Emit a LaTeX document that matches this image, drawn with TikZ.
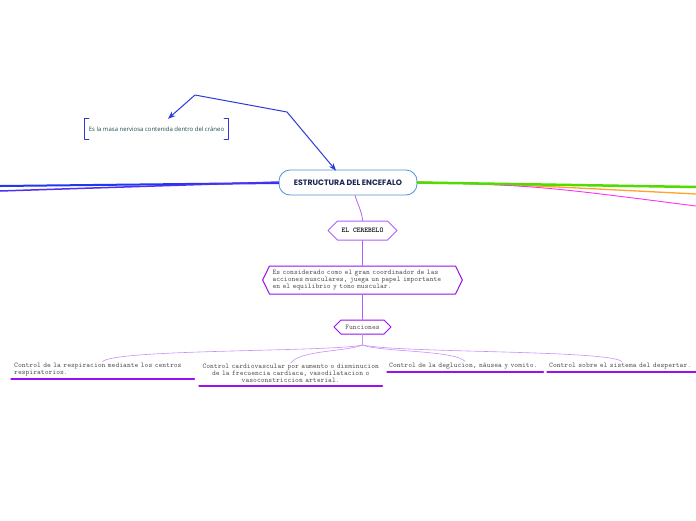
\documentclass[tikz,border=0pt]{standalone}
\usepackage{fontspec}
\newfontfamily\titlefont{Poppins}
\newfontfamily\notefont{Open Sans}
\usepackage{tikz}
\usetikzlibrary{arrows.meta,calc}
\usetikzlibrary{shapes.symbols}
\hyphenpenalty=10000

\definecolor{navy}{HTML}{1B2550}
\definecolor{skyline}{HTML}{4A94D8}
\definecolor{arrowblue}{HTML}{2A3BD8}
\definecolor{notegreen}{HTML}{1D4D4D}
\definecolor{lightpurple}{HTML}{B060F8}
\definecolor{fnpurple}{HTML}{9A10EE}
\definecolor{twigpurple}{HTML}{C890F8}
\definecolor{textgrey}{HTML}{555555}
\definecolor{limegreen}{HTML}{50DC00}
\definecolor{brorange}{HTML}{FFA428}
\definecolor{brmagenta}{HTML}{FF30EE}
\definecolor{brblue}{HTML}{2038F0}
\definecolor{brviolet}{HTML}{5030F0}

\begin{document}
\begin{tikzpicture}[x=1pt,y=-1pt,>=Stealth,line cap=round,line join=round,
  hexbox/.style={shape=signal,signal to=east and west,draw=fnpurple,line width=1pt,fill=white,
    font=\ttfamily\fontsize{7.2}{7}\selectfont,text=textgrey,inner ysep=0pt},
  leaf/.style={font=\ttfamily\fontsize{7.2}{7}\selectfont,text=textgrey,inner xsep=4pt,inner ysep=3pt,anchor=south west},
  uline/.style={fnpurple,line width=1.3pt},
  twig/.style={twigpurple,line width=0.6pt}]
\useasboundingbox (0,0) rectangle (696,520);
% main topic
\node[draw=skyline,line width=0.8pt,rounded corners=11pt,fill=white,minimum width=138pt,minimum height=25pt,
  font=\titlefont\bfseries\fontsize{7.8}{8}\selectfont,text=navy] (main) at (348,182.5) {ESTRUCTURA DEL ENCEFALO};
% side branches
\coordinate (lfta) at (0,186); \coordinate (lftb) at (0,191);
\coordinate (rgta) at (696,187); \coordinate (rgtb) at (696,194); \coordinate (rgtc) at (696,206);
\draw[brblue,line width=2pt] ([yshift=-0.5pt]main.west) -- (lfta);
\draw[brviolet,line width=1.5pt] ([yshift=0.5pt]main.west) -- (lftb);
\draw[brorange,line width=1.3pt] ([yshift=0.5pt]main.east) .. controls (520,185) .. (rgtb);
\draw[brmagenta,line width=0.9pt] ([yshift=0.5pt]main.east) .. controls (540,186) .. (rgtc);
\draw[limegreen,line width=2.5pt] (main.east) -- (rgta);
% floating note
\node[font=\notefont\fontsize{6}{7}\selectfont,text=notegreen,minimum width=143pt,minimum height=20pt,inner sep=0pt]
  (note) at (156.5,129) {Es la masa nerviosa contenida dentro del cráneo};
\draw[arrowblue,line width=1.2pt] ([xshift=4pt]note.north west) -| (note.south west) -- ++(4,0);
\draw[arrowblue,line width=1.2pt] ([xshift=-4pt]note.north east) -| (note.south east) -- ++(-4,0);
\coordinate (bendl) at (195,95); \coordinate (bendr) at (287,112);
\draw[arrowblue,line width=1pt,<->] ([xshift=11.5pt]note.north) -- (bendl) -- (bendr) -- ([xshift=-12pt,yshift=-1pt]main.north);
% cerebelo chain
\node[hexbox,draw=lightpurple,minimum width=69pt,minimum height=19pt,text=black,font=\ttfamily\bfseries\fontsize{7.2}{7}\selectfont]
  (cer) at (362.5,230.5) {EL CEREBELO};
\node[hexbox,signal pointer angle=128,minimum height=28pt,text width=180pt,align=left,inner xsep=3pt]
  (desc) at (362.5,280) {Es considerado como el gran coordinador de las\\acciones musculares, juega un papel importante\\en el equilibrio y tono muscular.};
\node[hexbox,minimum width=57pt,minimum height=14pt] (fun) at (362.5,327) {Funciones};
\draw[lightpurple,line width=0.8pt] ([xshift=7pt]main.south) .. controls (358,205) and (362,212) .. (cer.north);
\draw[lightpurple,line width=0.8pt] (cer.south) -- (desc.north);
\draw[lightpurple,line width=0.8pt] (desc.south) -- (fun.north);
% functions
\node[leaf,text width=177pt,inner xsep=3pt,align=left] (r1) at (11,379) {Control de la respiracion mediante los centros\\respiratorios.};
\node[leaf,text width=181pt,inner xsep=1pt,align=center] (r2) at (199,386) {Control cardiovascular por aumento o disminucion\\de la frecuencia cardiaca, vasodilatacion o\\vasoconstriccion arterial.};
\node[leaf,text width=152pt,inner xsep=2pt,align=left] (r3) at (387,372) {Control de la deglucion, náusea y vomito.};
\node[leaf,text width=145pt,inner xsep=2pt,align=left] (r4) at (547,372) {Control sobre el sistema del despertar.};
\foreach \r in {r1,r2,r3,r4} \draw[uline] (\r.south west) -- (\r.south east);
\coordinate (hub) at (362.5,345);
\draw[twig] (fun.south) -- (hub);
\draw[twig] (hub) .. controls (330,352) and (115,349) .. ([yshift=-2pt]r1.north);
\draw[twig] (hub) .. controls (345,352) and (300,350) .. ([yshift=-2pt]r2.north);
\draw[twig] (hub) .. controls (380,352) and (455,350) .. ([yshift=-2pt]r3.north);
\draw[twig] (hub) .. controls (400,353) and (610,350) .. ([yshift=-2pt]r4.north);
\end{tikzpicture}
\end{document}
